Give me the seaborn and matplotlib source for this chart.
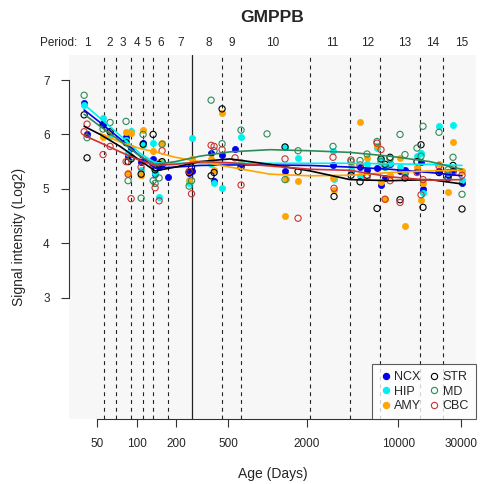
import numpy as np
import pandas as pd
import matplotlib
matplotlib.use("Agg")
import matplotlib.pyplot as plt
import matplotlib.transforms as mtransforms
from matplotlib.lines import Line2D
import seaborn as sns

# ---------------- data ----------------
regions = ["NCX", "HIP", "AMY", "STR", "MD", "CBC"]
region_colors = ["#0000EE", "#00F0F0", "#FFA500", "#000000", "#2E8B57", "#CD3333"]
region_filled = [True, True, True, False, False, False]

age_days = [39.8, 41.9, 55.5, 62.8, 83.2, 86.2, 90.9, 108.4, 112.2, 133.8, 138.6,
            148.7, 156.7, 174.2, 252, 263, 371, 391, 450, 565, 628, 992, 1361, 1385,
            1711, 3165, 3222, 4343, 5088, 5756, 6862, 7360, 7898, 8623, 10280, 11220,
            13860, 14870, 15400, 20400, 23900, 26100, 30570]
nan = np.nan
ncx = [6.58, 6.01, 6.20, 6.05, 5.95, 5.60, 5.75, 5.50, 5.85, 5.55, 5.27, 5.40, 5.45, 5.22,
       5.30, 5.32, 5.65, 5.15, 5.62, 5.74, 5.45, nan, 5.33, nan, nan, 5.43, nan, 5.32, 5.40,
       5.35, 5.38, 5.07, 5.20, 5.45, 5.32, 5.35, 5.32, 5.49, 4.99, 5.33, 5.25, 5.35, 5.10]
hip = [6.55, nan, 6.31, 5.98, 5.90, 5.65, 6.06, 5.35, 5.80, 5.84, 5.30, 4.85, 5.50, nan,
       5.10, 5.94, 5.45, 5.10, 5.02, nan, 5.95, nan, 5.77, nan, 5.57, 5.69, 5.18, 5.35, 5.24,
       5.45, 5.75, 5.55, 5.40, 5.47, 5.40, 5.30, 5.60, 5.66, 4.92, 6.15, 5.30, 6.18, 5.17]
amy = [nan, nan, 5.96, 6.05, 6.05, 5.30, 6.03, 5.25, 6.08, 5.70, 5.45, 5.50, 5.85, nan,
       5.17, 5.55, 5.55, 5.35, 6.39, nan, 5.50, nan, 4.50, 5.18, 5.15, 5.20, 4.97, 5.45, 6.23,
       5.57, 5.78, 5.12, 4.81, 5.26, 5.57, 4.32, 5.40, 4.80, 5.10, 5.45, 4.95, 5.87, 5.32]
strv = [6.36, 5.57, 6.18, 6.05, 5.85, 5.50, 5.55, 5.27, 5.82, 6.00, 5.35, 5.45, 5.50, nan,
        5.30, 5.40, 5.24, 5.30, 6.47, nan, 5.40, nan, 5.77, nan, 5.32, nan, 4.86, 5.25, 5.13,
        5.25, 4.64, 5.55, 5.45, 5.58, 4.80, 5.20, 5.50, 5.81, 4.66, 5.30, 5.20, 5.43, 4.63]
md = [6.72, 5.94, 6.10, 6.22, 6.24, 5.15, 5.58, 4.83, 6.00, 5.15, 5.10, 5.20, 5.82, nan,
      5.05, 5.15, 6.63, 5.70, 5.83, nan, 6.08, 6.01, 5.17, nan, 5.70, 5.78, nan, 5.50, 5.52,
      5.64, 5.87, 5.50, 5.40, 5.55, 6.00, 5.63, 5.75, 5.60, 6.15, 6.04, 5.35, 5.58, 4.90]
cbc = [6.05, 6.19, 5.63, 5.78, 5.50, 5.27, 4.82, 5.40, 5.55, 5.45, 5.02, 4.78, 5.70, nan,
       5.32, 4.91, 5.80, 5.78, 5.72, 5.57, 5.07, nan, 5.55, nan, 4.46, 5.58, 5.01, 5.53, 5.44,
       5.21, 5.84, 5.72, 4.81, 5.15, 4.75, 5.28, 5.30, 4.89, 5.17, 5.42, 5.30, 5.30, 5.25]

# smoothed trend curves
curve_days = [39.8, 52.7, 74.9, 106.6, 138.6, 197.7, 304, 516, 1045, 2110, 4267, 8623, 17430, 30570]
curve_ncx = [6.45, 6.22, 5.92, 5.60, 5.38, 5.40, 5.43, 5.44, 5.44, 5.43, 5.40, 5.36, 5.30, 5.24]
curve_hip = [6.55, 6.30, 5.98, 5.65, 5.48, 5.47, 5.47, 5.47, 5.47, 5.47, 5.47, 5.46, 5.45, 5.43]
curve_amy = [nan, 6.02, 5.86, 5.74, 5.68, 5.58, 5.50, 5.40, 5.27, 5.24, 5.25, 5.30, 5.33, 5.34]
curve_str = [6.15, 6.00, 5.78, 5.52, 5.33, 5.40, 5.50, 5.55, 5.45, 5.33, 5.17, 5.15, 5.17, 5.09]
curve_md = [6.37, 6.15, 5.88, 5.60, 5.45, 5.50, 5.60, 5.68, 5.72, 5.70, 5.67, 5.60, 5.50, 5.36]
curve_cbc = [5.98, 5.85, 5.68, 5.52, 5.43, 5.45, 5.50, 5.48, 5.42, 5.36, 5.34, 5.22, 5.16, 5.17]

period_bounds = [56, 70, 91, 112, 133, 175, 448, 632, 2110, 4300, 7230, 14620, 22000]
birth_day = 266
period_labels = [str(i) for i in range(1, 16)]
period_label_days = [42.2, 62.9, 79, 101, 122.5, 154, 219, 358, 537, 1104, 3113, 5862,
                     11230, 18370, 30550]

x_ticks = [50, 100, 200, 500, 2000, 10000, 30000]
y_ticks = [3, 4, 5, 6, 7]

# ---------------- build tables ----------------
vals = [ncx, hip, amy, strv, md, cbc]
curves = [curve_ncx, curve_hip, curve_amy, curve_str, curve_md, curve_cbc]
pts = pd.concat([pd.DataFrame({"age": age_days, "val": v, "region": r})
                 for r, v in zip(regions, vals)]).dropna()
crv = pd.concat([pd.DataFrame({"age": curve_days, "val": v, "region": r})
                 for r, v in zip(regions, curves)]).dropna()

# ---------------- figure ----------------
sns.set_style("white")
plt.rcParams["font.family"] = ["Liberation Sans", "DejaVu Sans"]

fig = plt.figure(figsize=(4.81, 4.84), dpi=100)
ax = fig.add_axes([69 / 481, 1 - 419 / 484, (476 - 69) / 481, (419 - 55) / 484])
ax.set_facecolor("#F7F7F7")
ax.set_xscale("log")
ax.set_xlim(30.5, 39100)
ax.set_ylim(0.77, 7.46)

for b in period_bounds:
    ax.axvline(b, color="#222222", lw=0.8, ls=(0, (3.5, 3.5)), zorder=1)
ax.axvline(birth_day, color="#222222", lw=0.9, zorder=1)

for r, col, fl in zip(regions, region_colors, region_filled):
    sub = pts[pts.region == r]
    if fl:
        sns.scatterplot(data=sub, x="age", y="val", ax=ax, color=col, s=20,
                        edgecolor=col, linewidth=0.5, zorder=3)
    else:
        sns.scatterplot(data=sub, x="age", y="val", ax=ax, color=col, s=20,
                        facecolor="none", edgecolor=col, linewidth=0.8, zorder=3)

sns.lineplot(data=crv, x="age", y="val", hue="region", hue_order=regions,
             palette=region_colors, estimator=None, sort=True, lw=1.2,
             ax=ax, legend=False, zorder=4)

# axes styling (R-like)
for s in ["top", "right"]:
    ax.spines[s].set_visible(False)
ax.spines["left"].set_bounds(3, 7)
ax.spines["bottom"].set_bounds(50, 30000)
for s in ["left", "bottom"]:
    ax.spines[s].set_color("#333333")
    ax.spines[s].set_linewidth(0.8)
ax.set_xticks(x_ticks)
ax.set_xticklabels([str(t) for t in x_ticks])
ax.xaxis.set_minor_locator(matplotlib.ticker.NullLocator())
ax.set_yticks(y_ticks)
ax.set_yticklabels([str(t) for t in y_ticks])
ax.tick_params(axis="both", which="major", direction="out", length=6, width=0.8,
               color="#333333", labelsize=8.5, pad=8, left=True, bottom=True)
ax.set_xlabel("Age (Days)", fontsize=10, labelpad=12)
ax.set_ylabel("Signal intensity (Log2)", fontsize=10, labelpad=12)

# period labels
trans = mtransforms.blended_transform_factory(ax.transData, fig.transFigure)
for d, lab in zip(period_label_days, period_labels):
    ax.text(d, 1 - 43 / 484, lab, transform=trans, ha="center", va="center",
            fontsize=8.5, clip_on=False)
fig.text(77 / 481, 1 - 43 / 484, "Period:", ha="right", va="center", fontsize=8.5)

fig.text(272.5 / 481, 1 - 17 / 484, "GMPPB", ha="center", va="center",
         fontsize=12.5, fontweight="bold")

# legend
handles = []
for r, col, fl in zip(regions, region_colors, region_filled):
    handles.append(Line2D([], [], ls="none", marker="o", markersize=4.5,
                          markerfacecolor=col if fl else "none",
                          markeredgecolor=col, markeredgewidth=0.8, label=r))
leg = ax.legend(handles=handles, ncol=2, loc="lower right", borderaxespad=0,
                frameon=True, fancybox=False, fontsize=9, handletextpad=0.2,
                columnspacing=0.5, labelspacing=0.2, handlelength=1.0,
                borderpad=0.55)
leg.get_frame().set_edgecolor("#333333")
leg.get_frame().set_linewidth(0.8)
leg.get_frame().set_facecolor("white")
leg.set_zorder(6)

fig.savefig("out.png", dpi=100)
